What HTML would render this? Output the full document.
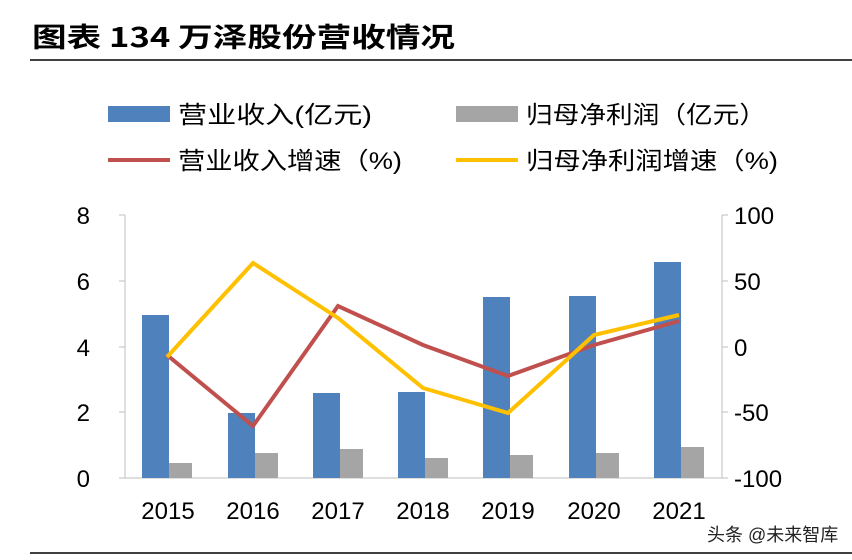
<!DOCTYPE html>
<html><head><meta charset="utf-8"><style>
body{margin:0;background:#fff;}
svg{display:block;font-family:"Liberation Sans","Noto Sans CJK SC",sans-serif;}
</style></head><body>
<svg width="852" height="560" xmlns="http://www.w3.org/2000/svg">
<rect width="852" height="560" fill="#fff"/>
<text x="32" y="47" font-size="27" font-weight="bold" font-family="'Noto Sans CJK SC',sans-serif" fill="#000" textLength="423" lengthAdjust="spacingAndGlyphs">图表 134 万泽股份营收情况</text>
<line x1="30" y1="60" x2="852" y2="60" stroke="#000" stroke-width="1.5"/>
<line x1="30" y1="553" x2="852" y2="553" stroke="#000" stroke-width="1.5"/>
<!-- legend -->
<rect x="108" y="106" width="62" height="16" fill="#4f81bd"/>
<text x="178" y="123" font-size="24" textLength="194" lengthAdjust="spacingAndGlyphs">营业收入(亿元)</text>
<rect x="456" y="106" width="62" height="16" fill="#a5a5a5"/>
<text x="526" y="123" font-size="24" textLength="240" lengthAdjust="spacingAndGlyphs">归母净利润（亿元）</text>
<line x1="108" y1="160" x2="170" y2="160" stroke="#c0504d" stroke-width="4"/>
<text x="178" y="169" font-size="24" textLength="224" lengthAdjust="spacingAndGlyphs">营业收入增速（%)</text>
<line x1="456" y1="160" x2="518" y2="160" stroke="#ffc000" stroke-width="4"/>
<text x="526" y="169" font-size="24" textLength="252" lengthAdjust="spacingAndGlyphs">归母净利润增速（%)</text>
<!-- axes -->
<line x1="125" y1="215" x2="125" y2="478" stroke="#bfbfbf"/>
<line x1="722" y1="215" x2="722" y2="478" stroke="#bfbfbf"/>
<line x1="125" y1="478" x2="722" y2="478" stroke="#bfbfbf"/>
<g stroke="#bfbfbf">
<line x1="722" y1="215" x2="728" y2="215"/><line x1="722" y1="281" x2="728" y2="281"/><line x1="722" y1="347" x2="728" y2="347"/><line x1="722" y1="412" x2="728" y2="412"/><line x1="722" y1="478" x2="728" y2="478"/>
<line x1="119" y1="215" x2="125" y2="215"/><line x1="119" y1="281" x2="125" y2="281"/><line x1="119" y1="347" x2="125" y2="347"/><line x1="119" y1="412" x2="125" y2="412"/><line x1="119" y1="478" x2="125" y2="478"/>
</g>
<g font-size="24" text-anchor="end">
<text x="90" y="224">8</text><text x="90" y="290">6</text><text x="90" y="356">4</text><text x="90" y="421">2</text><text x="90" y="487">0</text>
</g>
<g font-size="24" text-anchor="start">
<text x="734" y="224">100</text><text x="734" y="290">50</text><text x="734" y="356">0</text><text x="734" y="421">-50</text><text x="734" y="487">-100</text>
</g>
<g font-size="24" text-anchor="middle">
<text x="168" y="519">2015</text><text x="253" y="519">2016</text><text x="338" y="519">2017</text><text x="423" y="519">2018</text><text x="508" y="519">2019</text><text x="594" y="519">2020</text><text x="679" y="519">2021</text>
</g>
<!-- bars -->
<g fill="#4f81bd">
<rect x="142" y="315" width="27" height="163"/>
<rect x="228" y="413" width="27" height="65"/>
<rect x="313" y="393" width="27" height="85"/>
<rect x="398" y="392" width="27" height="86"/>
<rect x="483" y="297" width="27" height="181"/>
<rect x="569" y="296" width="27" height="182"/>
<rect x="654" y="262" width="27" height="216"/>
</g>
<g fill="#a5a5a5">
<rect x="169" y="463" width="23" height="15"/>
<rect x="255" y="453" width="23" height="25"/>
<rect x="340" y="449" width="23" height="29"/>
<rect x="425" y="458" width="23" height="20"/>
<rect x="510" y="455" width="23" height="23"/>
<rect x="596" y="453" width="23" height="25"/>
<rect x="681" y="447" width="23" height="31"/>
</g>
<polyline fill="none" stroke="#c0504d" stroke-width="4" points="167,355 253,426 338,306 423,345 508,376 594,345 679,321"/>
<polyline fill="none" stroke="#ffc000" stroke-width="4" points="167,357 253,263 338,318 423,388 508,413 594,335 679,315"/>
<text x="707" y="541" font-size="18" fill="#222">头条 @未来智库</text>
</svg>
</body></html>
